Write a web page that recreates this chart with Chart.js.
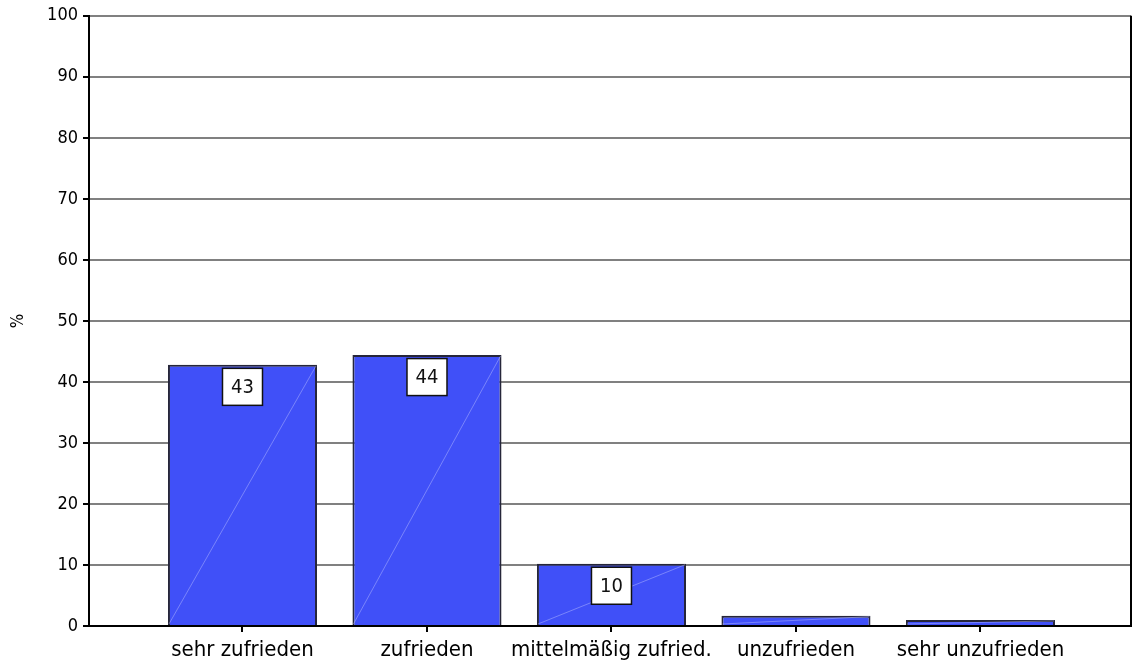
<!DOCTYPE html>
<html>
<head>
<meta charset="utf-8">
<script src="https://cdn.jsdelivr.net/npm/chart.js@4"></script>
<style>
  html, body { margin: 0; padding: 0; background: #fff; }
  #wrap { width: 1133px; height: 670px; }
</style>
</head>
<body>
<div id="wrap"><canvas id="chart" width="1133" height="670"></canvas></div>
<script>
// Daten
const categories = ['sehr zufrieden', 'zufrieden', 'mittelmäßig zufried.', 'unzufrieden', 'sehr unzufrieden'];
const values = [42.8, 44.4, 10.2, 1.7, 1.0];
const labelTexts = ['43', '44', '10', '', ''];
const yTicks = [0, 10, 20, 30, 40, 50, 60, 70, 80, 90, 100];

const FONT = "'DejaVu Sans Condensed', 'Liberation Sans Narrow', 'Liberation Sans', sans-serif";

// feine Diagonale in den Balken + Wertelabels in weißen Kästchen
const boxLabels = {
    id: 'boxLabels',
    afterDatasetsDraw(chart) {
        const ctx = chart.ctx;
        const meta = chart.getDatasetMeta(0);
        ctx.save();
        meta.data.forEach((bar) => {
            const half = bar.width / 2;
            ctx.strokeStyle = 'rgba(190, 195, 255, 0.45)';
            ctx.lineWidth = 1;
            ctx.beginPath();
            ctx.moveTo(bar.x - half + 1, bar.base - 1);
            ctx.lineTo(bar.x + half - 1, bar.y + 1);
            ctx.stroke();
        });
        meta.data.forEach((bar, i) => {
            const txt = labelTexts[i];
            if (!txt) return;
            const w = 40, h = 37;
            const x = bar.x - w / 2;
            const y = bar.y + 3.5;
            ctx.fillStyle = '#fff';
            ctx.fillRect(x, y, w, h);
            ctx.strokeStyle = '#111';
            ctx.lineWidth = 1.5;
            ctx.strokeRect(x, y, w, h);
            ctx.fillStyle = '#111';
            ctx.font = '20px ' + FONT;
            ctx.textAlign = 'center';
            ctx.textBaseline = 'middle';
            ctx.fillText(txt, bar.x, y + h / 2 + 1);
        });
        ctx.restore();
    }
};

// rechte Rahmenlinie
const rightBorder = {
    id: 'rightBorder',
    afterDraw(chart) {
        const a = chart.chartArea;
        const ctx = chart.ctx;
        ctx.save();
        ctx.strokeStyle = '#000';
        ctx.lineWidth = 2;
        ctx.beginPath();
        ctx.moveTo(a.right, a.top);
        ctx.lineTo(a.right, a.bottom + 1);
        ctx.stroke();
        ctx.restore();
    }
};

function initChart() {
    new Chart(document.getElementById('chart'), {
        type: 'bar',
        data: {
            datasets: [{
                data: values.map((v, i) => ({ x: i + 1, y: v })),
                backgroundColor: '#4050f8',
                borderColor: '#26263a',
                borderWidth: 2,
                categoryPercentage: 1,
                barPercentage: 0.808
            }]
        },
        options: {
            responsive: false,
            animation: false,
            layout: { padding: { top: 15, right: 2, left: 0, bottom: 0 } },
            plugins: {
                legend: { display: false },
                tooltip: { enabled: false }
            },
            scales: {
                x: {
                    type: 'linear',
                    offset: false,
                    min: 0.168,
                    max: 5.816,
                    afterBuildTicks: (axis) => {
                        axis.ticks = categories.map((c, i) => ({ value: i + 1 }));
                    },
                    afterFit: (scale) => { scale.height = 44; },
                    ticks: {
                        autoSkip: false,
                        maxRotation: 0,
                        padding: 5,
                        color: '#000',
                        font: { family: FONT, size: 22 },
                        callback: (v) => categories[v - 1] || ''
                    },
                    grid: {
                        offset: false,
                        drawOnChartArea: false,
                        drawTicks: true,
                        tickLength: 6,
                        tickColor: '#000',
                        lineWidth: 2
                    },
                    border: { color: '#000', width: 2 }
                },
                y: {
                    min: 0,
                    max: 100,
                    afterBuildTicks: (axis) => {
                        axis.ticks = yTicks.map(v => ({ value: v }));
                    },
                    afterFit: (scale) => { scale.width = 89; },
                    ticks: {
                        padding: 5,
                        color: '#000',
                        font: { family: FONT, size: 18 }
                    },
                    grid: {
                        color: '#808080',
                        lineWidth: 2,
                        tickColor: '#000',
                        tickLength: 6
                    },
                    border: { color: '#000', width: 2 },
                    title: {
                        display: true,
                        text: '%',
                        color: '#000',
                        font: { family: FONT, size: 17 },
                        padding: { top: 8, bottom: 0 }
                    }
                }
            }
        },
        plugins: [boxLabels, rightBorder]
    });
}

document.addEventListener('DOMContentLoaded', initChart);
</script>
</body>
</html>
